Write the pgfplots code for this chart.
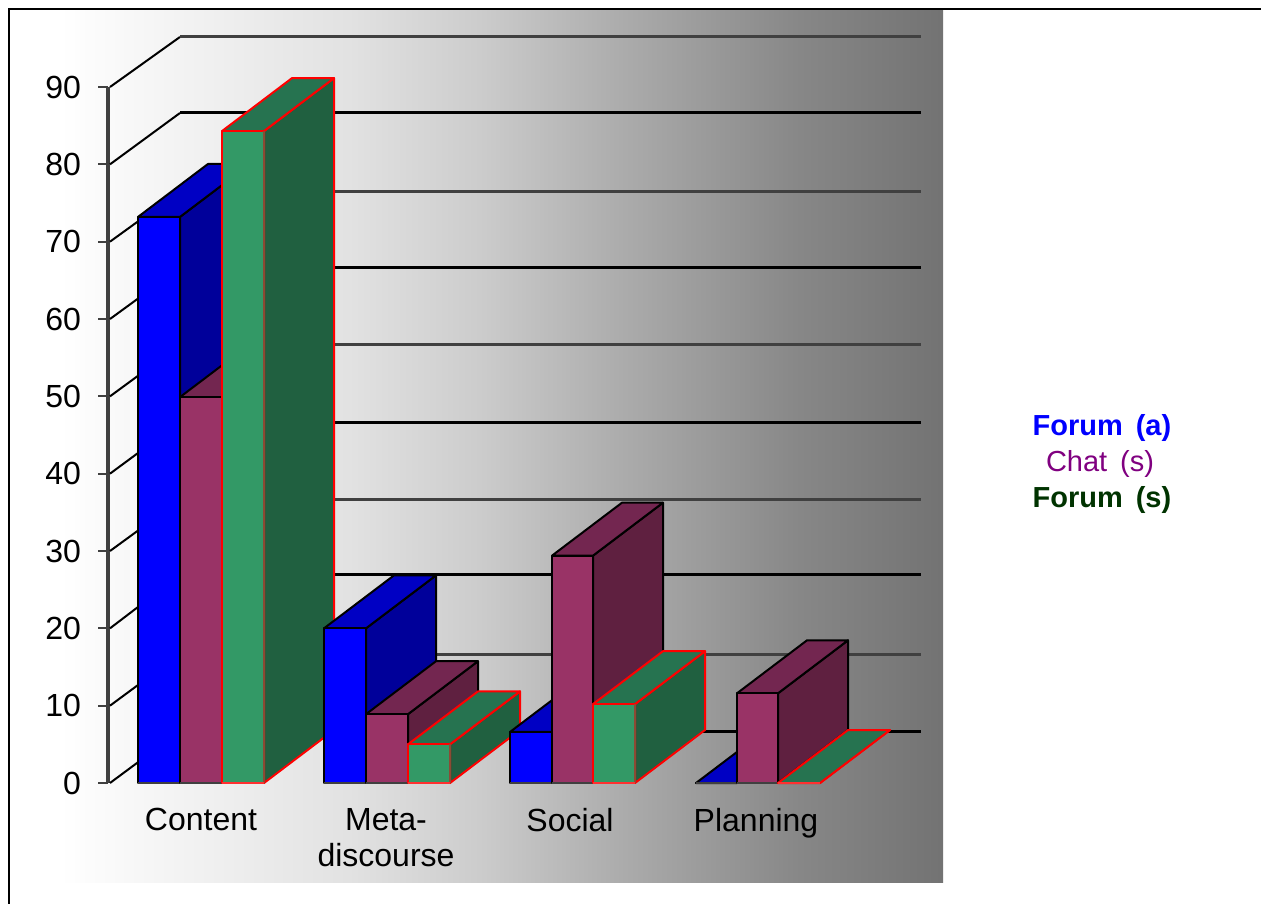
\documentclass[border=0pt]{standalone}
\usepackage{pgfplots}
\pgfplotsset{compat=1.18}
\usepackage{fontspec}
\setmainfont{Liberation Sans}

% Horizontal wash behind the plot: white at the left, dark grey at the right
\definecolor{w1}{gray}{1.00}
\definecolor{w2}{gray}{0.885}
\definecolor{w3}{gray}{0.80}
\definecolor{w4}{gray}{0.675}
\definecolor{w5}{gray}{0.53}
\definecolor{w6}{gray}{0.45}
\pgfdeclarehorizontalshading{wallwash}{100bp}{
  color(0bp)=(w1); color(27.7bp)=(w1); color(43.3bp)=(w2); color(50.2bp)=(w3);
  color(57.7bp)=(w4); color(67.3bp)=(w5); color(75bp)=(w6); color(100bp)=(w6)}

% Series colours: front, top and side faces
\definecolor{blueF}{HTML}{0000FF}\definecolor{blueT}{HTML}{0000C4}\definecolor{blueS}{HTML}{00009A}
\definecolor{chatF}{HTML}{993366}\definecolor{chatT}{HTML}{732650}\definecolor{chatS}{HTML}{5F2040}
\definecolor{grnF}{HTML}{339966}\definecolor{grnT}{HTML}{267350}\definecolor{grnS}{HTML}{206040}
\definecolor{rule}{HTML}{404040}
\definecolor{grnEdge}{HTML}{8C4A34}
\definecolor{baseRed}{HTML}{FF3030}
\definecolor{keyChat}{HTML}{800080}
\definecolor{keyForum}{HTML}{003300}

\newcommand{\depthx}{70}
\newcommand{\depthy}{6.85}

% One prism: left x, right x, value, three face colours, edge, inner edge, base line
\newcommand{\prism}[9]{%
  \pgfmathsetmacro{\xa}{#1+\depthx}%
  \pgfmathsetmacro{\xb}{#2+\depthx}%
  \pgfmathsetmacro{\yb}{#3+\depthy}%
  \addplot[draw=#7,fill=#6,line width=2pt,line join=round] coordinates {(#2,0) (\xb,\depthy) (\xb,\yb) (#2,#3)} --cycle;
  \addplot[draw=#7,fill=#5,line width=2pt,line join=round] coordinates {(#1,#3) (\xa,\yb) (\xb,\yb) (#2,#3)} --cycle;
  \addplot[draw=#7,fill=#4,line width=2pt,line join=round] coordinates {(#1,0) (#1,#3) (#2,#3) (#2,0)} --cycle;
  \addplot[draw=#8,line width=2.4pt] coordinates {(#2,0) (#2,#3)};
  \addplot[draw=#9,line width=2.4pt] coordinates {(#1,0) (#2,0)};
}
\newcommand{\forumA}[3]{\prism{#1}{#2}{#3}{blueF}{blueT}{blueS}{black}{black}{rule}}
\newcommand{\chatS}[3]{\prism{#1}{#2}{#3}{chatF}{chatT}{chatS}{black}{black}{rule}}
\newcommand{\forumS}[3]{\prism{#1}{#2}{#3}{grnF}{grnT}{grnS}{red}{grnEdge}{baseRed}}

% One level: value at the front, height at the back, colour of the wall line
\newcommand{\wallline}[3]{%
  \addplot[draw=black,line width=2pt] coordinates {(110,#1) (180,#2)};
  \addplot[draw=#3,line width=3pt] coordinates {(180,#2) (921,#2)};
}

\begin{document}
\begin{tikzpicture}[x=1pt,y=1pt]
\useasboundingbox (0,0) rectangle (1261,-904);
\shade[shading=wallwash] (9,-9) rectangle (943,-882);
\draw[black,line width=2pt] (1261,-9.5) -- (8.5,-9.5) -- (8.5,-904);

\begin{axis}[
  at={(108pt,-783pt)}, anchor=origin,
  scale only axis, width=813pt, height=696pt,
  xmin=108, xmax=921, ymin=0, ymax=90,
  clip=false,
  axis x line=bottom, axis y line=left,
  axis line style={-},
  x axis line style={draw=none},
  y axis line style={draw=rule,line width=4pt},
  xtick={201,386,570,756},
  xticklabels={Content,{Meta-\\discourse},Social,Planning},
  x tick style={draw=none},
  major tick length=10pt,
  tick align=outside,
  y tick style={draw=rule,line width=2pt},
  ytick={0,10,...,90},
  /pgf/number format/assume math mode=true,
  xticklabel style={font=\fontsize{32}{36}\selectfont,align=center,text=black,yshift=-12pt},
  yticklabel style={font=\fontsize{32}{36}\selectfont,text=black,xshift=-13.5pt},
]
% Wall and side-wall levels
\wallline{0}{6.72}{black}
\wallline{10}{16.68}{rule}
\wallline{20}{26.9}{black}
\wallline{30}{36.6}{rule}
\wallline{40}{46.68}{black}
\wallline{50}{56.64}{rule}
\wallline{60}{66.6}{black}
\wallline{70}{76.55}{rule}
\wallline{80}{86.64}{black}
\wallline{90}{96.47}{rule}

% Content
\forumA{138}{180}{73.2}
\chatS{180}{222}{49.9}
\forumS{222}{264}{84.3}
% Meta-discourse
\forumA{324}{366}{20}
\chatS{366}{408}{8.9}
\forumS{408}{450}{5}
% Social
\forumA{510}{552}{6.6}
\chatS{552}{593}{29.4}
\forumS{593}{635}{10.2}
% Planning
\forumA{696}{737}{0}
\chatS{737}{778}{11.6}
\forumS{778}{820}{0}
\end{axis}

% Series key
\node[text=blue,font=\fontsize{29}{36}\selectfont\bfseries] at (1102,-428) {Forum\, (a)};
\node[text=keyChat,font=\fontsize{29}{36}\selectfont] at (1100,-464) {Chat\, (s)};
\node[text=keyForum,font=\fontsize{29}{36}\selectfont\bfseries] at (1102,-500) {Forum\, (s)};
\end{tikzpicture}
\end{document}
